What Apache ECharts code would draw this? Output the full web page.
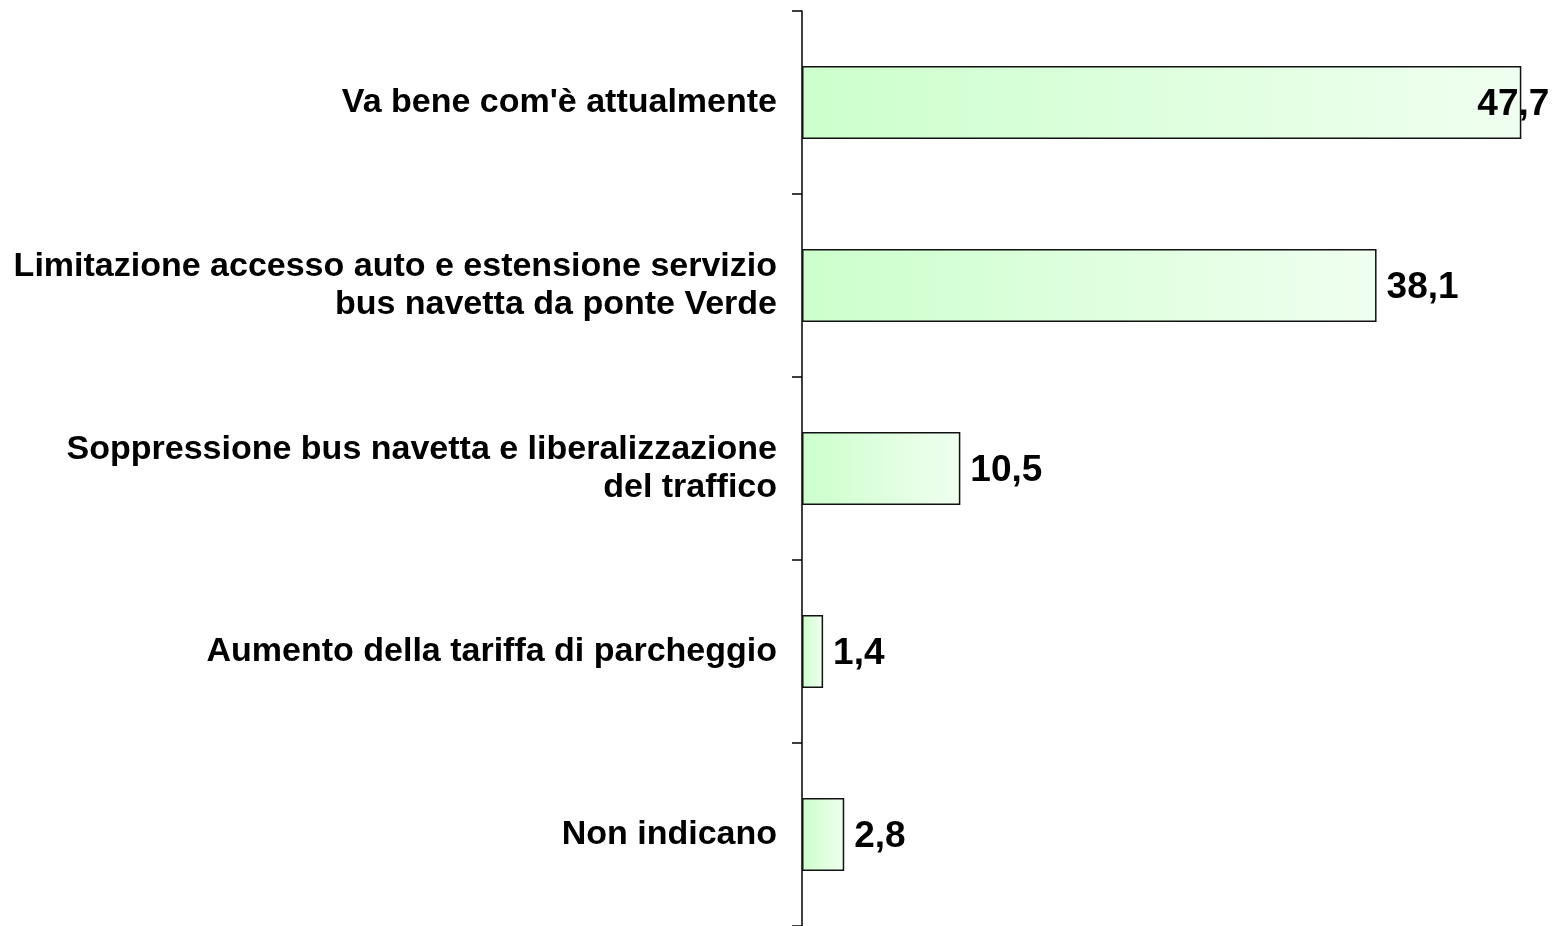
<!DOCTYPE html>
<html>
<head>
<meta charset="utf-8">
<script src="https://cdn.jsdelivr.net/npm/echarts@6/dist/echarts.min.js"></script>
<style>
  html, body { margin: 0; padding: 0; background: #fff; }
  #chart { width: 1558px; height: 926px; }
</style>
</head>
<body>
<div id="chart"></div>
<script>
// categories top -> bottom
var categories = [
  "Va bene com'è attualmente",
  "Limitazione accesso auto e estensione servizio\nbus navetta da ponte Verde",
  "Soppressione bus navetta e liberalizzazione\ndel traffico",
  "Aumento della tariffa di parcheggio",
  "Non indicano"
];
var values = [47.7, 38.1, 10.5, 1.4, 2.8];

var font = "'Liberation Sans', Arial, sans-serif";

var chart = echarts.init(document.getElementById("chart"));

var seriesData = values.map(function (v, i) {
  if (i === 0) {
    // label gets pushed back so it stays on the page
    return { value: v, label: { position: "insideRight", offset: [38, 2] } };
  }
  return v;
});

chart.setOption({
  animation: false,
  grid: {
    left: 802,
    right: 2,
    top: 11,
    bottom: -2,
    containLabel: false,
  },
  xAxis: {
    type: "value",
    min: 0,
    max: 50,
    show: false,
  },
  yAxis: {
    type: "category",
    inverse: true,
    data: categories,
    axisLine: { show: true, lineStyle: { color: "#000", width: 1.5 } },
    axisTick: { show: true, alignWithLabel: false, length: 10, lineStyle: { color: "#000", width: 1.5 } },
    axisLabel: {
      margin: 25,
      color: "#000",
      fontFamily: font,
      fontWeight: "bold",
      fontSize: 34,
      lineHeight: 38,
      align: "right",
    },
  },
  series: [
    {
      type: "bar",
      data: seriesData,
      barCategoryGap: "60%",
      itemStyle: {
        borderColor: "#111",
        borderWidth: 1.5,
        color: new echarts.graphic.LinearGradient(0, 0, 1, 0, [
          { offset: 0, color: "#ccffcc" },
          { offset: 1, color: "#f0fff0" },
        ]),
      },
      label: {
        show: true,
        position: "right",
        distance: 10,
        offset: [0, 2],
        color: "#000",
        fontFamily: font,
        fontWeight: "bold",
        fontSize: 37,
        formatter: function (p) {
          return String(p.value).replace(".", ",");
        },
      },
    },
  ],
});
</script>
</body>
</html>
